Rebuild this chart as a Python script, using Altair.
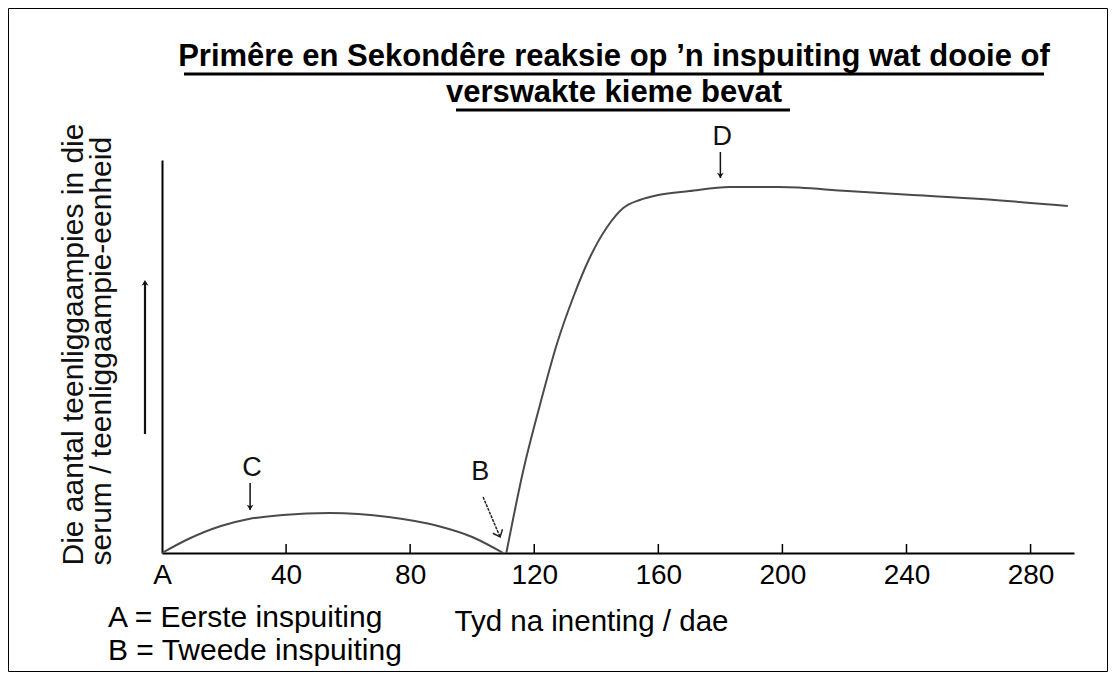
import altair as alt
import pandas as pd

# ---- data ----
primary_days = [0, 8.5, 19, 28, 39, 54, 73, 89, 100, 110]
primary_vals = [0, 1.4, 2.7, 3.4, 3.8, 4.0, 3.6, 2.7, 1.6, 0]
secondary_days = [111, 116.5, 122, 127.4, 132.6, 138, 143.5, 148.7, 154, 160,
                  170, 183, 199, 221, 242, 264, 292]
secondary_vals = [0, 8.3, 15, 21, 25.6, 29.6, 32.6, 34.5, 35.3, 35.8,
                  36.2, 36.6, 36.6, 36.2, 35.8, 35.4, 34.7]
axis_days = [0, 40, 80, 120, 160, 200, 240, 280]
tick_days = [40, 80, 120, 160, 200, 240, 280]

title_lines = ["Primêre en Sekondêre reaksie op \u2019n inspuiting wat dooie of",
               "verswakte kieme bevat"]
y_title = ["Die aantal teenliggaampies in die", "serum / teenliggaampie-eenheid"]
x_title = "Tyd na inenting / dae"
legend_lines = ["A = Eerste inspuiting", "B = Tweede inspuiting"]

label_text = ["C", "B", "D"]
label_day = [29, 102.6, 180.6]
label_val = [8.5, 8.1, 41.6]

# straight arrows (C, D): shaft from top to head
arrow_day = [28.4, 180]
arrow_top = [7.0, 40.1]
arrow_bot = [4.3, 37.5]
# slanted arrow at B
b_arrow_day = [103.5, 109]
b_arrow_val = [5.6, 1.6]

FONT = "Liberation Sans, Arial, sans-serif"

curve = pd.DataFrame({
    "day": primary_days + secondary_days,
    "val": primary_vals + secondary_vals,
    "series": ["primary"] * len(primary_days) + ["secondary"] * len(secondary_days),
})

xs = alt.Scale(domain=[0, 294], nice=False, zero=False)
ys = alt.Scale(domain=[0, 39.3], nice=False, zero=False)

line = alt.Chart(curve).mark_line(color="#4a4a4a", strokeWidth=2, interpolate="monotone", clip=False).encode(
    x=alt.X("day:Q", scale=xs, axis=alt.Axis(
        values=axis_days, labelExpr="datum.value == 0 ? 'A' : datum.label",
        grid=False, ticks=False, domainColor="#000", domainWidth=2,
        labelFont=FONT, labelFontSize=28, labelColor="#000", labelPadding=8,
        labelFlush=False,
        title=x_title, titleFont=FONT, titleFontSize=29.5, titleFontWeight="normal",
        titleColor="#000", titleX=429, titleY=77, titleAnchor="middle",
        titleAlign="center", titleBaseline="alphabetic")),
    y=alt.Y("val:Q", scale=ys, axis=alt.Axis(
        grid=False, ticks=False, labels=False, domainColor="#000", domainWidth=2,
        title=y_title, titleFont=FONT, titleFontSize=30, titleFontWeight="normal",
        titleColor="#111", titleAngle=270, titleAlign="left", titleBaseline="middle",
        titleX=-89, titleY=405, titleLineHeight=28)),
    detail="series:N",
)

ticks = alt.Chart(pd.DataFrame({"day": tick_days, "y0": [0] * len(tick_days),
                                "y1": [0.9] * len(tick_days)})).mark_rule(
    color="#000", strokeWidth=1.5).encode(
    x=alt.X("day:Q", scale=xs), y=alt.Y("y0:Q", scale=ys), y2="y1:Q")

labels = alt.Chart(pd.DataFrame({"t": label_text, "day": label_day, "val": label_val})).mark_text(
    font=FONT, fontSize=27, color="#111", baseline="middle", align="center", clip=False).encode(
    x=alt.X("day:Q", scale=xs), y=alt.Y("val:Q", scale=ys), text="t:N")

arrows_df = pd.DataFrame({"day": arrow_day, "top": arrow_top, "bot": arrow_bot})
arrow_shafts = alt.Chart(arrows_df).mark_rule(color="#111", strokeWidth=1.5, clip=False).encode(
    x=alt.X("day:Q", scale=xs), y=alt.Y("top:Q", scale=ys), y2="bot:Q")
arrow_heads = alt.Chart(arrows_df).mark_point(
    shape="M-1,-1.6L0,0L1,-1.6L0,-1.1Z", filled=True, color="#111", size=45, opacity=1, clip=False).encode(
    x=alt.X("day:Q", scale=xs), y=alt.Y("bot:Q", scale=ys))

b_df = pd.DataFrame({"day": b_arrow_day, "val": b_arrow_val, "o": [0, 1]})
b_shaft = alt.Chart(b_df).mark_line(color="#222", strokeWidth=1.5, strokeDash=[3, 1], clip=False).encode(
    x=alt.X("day:Q", scale=xs), y=alt.Y("val:Q", scale=ys), order="o:Q")
b_head = alt.Chart(b_df.iloc[[1]]).mark_point(
    shape="M-1,-1.2L0,0L1,-1.2", filled=False, color="#222", strokeWidth=1.5, size=110,
    angle=337, opacity=1, clip=False).encode(
    x=alt.X("day:Q", scale=xs), y=alt.Y("val:Q", scale=ys))

# title as text lines with underlines (pixel positions relative to the plot area)
title_df = pd.DataFrame({"t": title_lines, "y": [-94, -58]})
title = alt.Chart(title_df).mark_text(
    font=FONT, fontSize=31, fontWeight="bold", color="#000", align="center",
    baseline="alphabetic").encode(
    x=alt.value(452), y=alt.Y("y:Q", scale=None), text="t:N")

underlines = alt.Chart(pd.DataFrame({"x": [22, 294], "x2": [882, 628], "y": [-86, -50]})).mark_rule(
    color="#000", strokeWidth=3).encode(
    x=alt.X("x:Q", scale=None), x2="x2:Q", y=alt.Y("y:Q", scale=None))

legend = alt.Chart(pd.DataFrame({"t": legend_lines, "y": [467, 500]})).mark_text(
    font=FONT, fontSize=30, color="#000", align="left", baseline="alphabetic").encode(
    x=alt.value(-54), y=alt.Y("y:Q", scale=None), text="t:N")

y_arrow = alt.Chart(pd.DataFrame({"a": [0]})).mark_rule(color="#111", strokeWidth=2.2).encode(
    x=alt.value(-17), y=alt.value(124), y2=alt.value(274))
y_arrow_head = alt.Chart(pd.DataFrame({"a": [0]})).mark_point(
    shape="M-1,1.6L0,0L1,1.6L0,1.1Z", filled=True, color="#111", size=50, opacity=1).encode(
    x=alt.value(-17), y=alt.value(120))

frame = alt.Chart(pd.DataFrame({"a": [0]})).mark_rect(
    fill=None, stroke="#000", strokeWidth=1).encode(
    x=alt.value(-153.5), x2=alt.value(945.5), y=alt.value(-151.5), y2=alt.value(511.5))

chart = alt.layer(
    frame, line, ticks, labels, arrow_shafts, arrow_heads, b_shaft, b_head,
    title, underlines, legend, y_arrow, y_arrow_head,
).properties(
    width=912, height=393,
    autosize=alt.AutoSizeParams(type="none"),
    padding={"left": 154, "top": 152, "right": 35, "bottom": 119},
).configure_view(stroke=None)

chart.save("out.html", embed_options={"renderer": "svg", "actions": False})
